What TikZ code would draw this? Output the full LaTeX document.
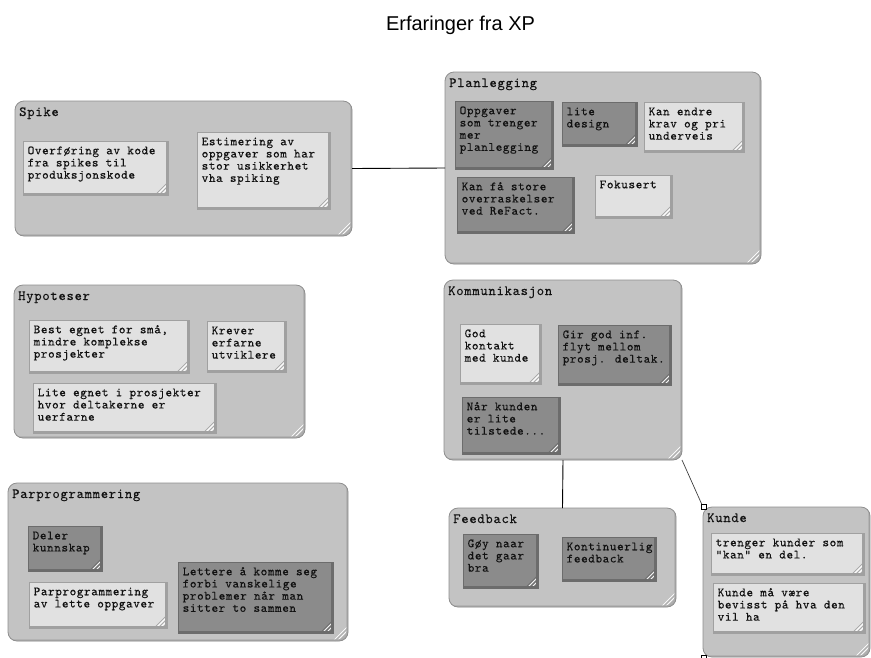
\documentclass[tikz,border=0pt]{standalone}
\usepackage{fontspec}
\setmainfont{Liberation Sans}
\newfontfamily\lmnote{lmmono10-regular.otf}[LetterSpace=4.6, FakeBold=0.25]
\newfontfamily\lmtitle{lmmono10-regular.otf}[LetterSpace=5, FakeBold=0.15]

\definecolor{grpfill}{HTML}{C3C3C3}
\definecolor{grpedge}{HTML}{8E8E8E}
\definecolor{grpshade}{HTML}{ABABAB}
\definecolor{lightfill}{HTML}{E1E1E1}
\definecolor{lightedge}{HTML}{A0A0A0}
\definecolor{darkfill}{HTML}{8B8B8B}
\definecolor{darkedge}{HTML}{6C6C6C}
\definecolor{inkcol}{HTML}{111111}

% typewriter faces for group titles and note texts
\newcommand\notefont{\lmnote\fontsize{12.6}{12.2}\selectfont}
\newcommand\grpfont{\lmtitle\fontsize{14}{14}\selectfont}

% bottom-right hatching of a box; #1 = size of the corner, #2 = colour of the dark stripes
\tikzset{
  cornerhatch/.style 2 args={
    path picture={
      \foreach \d in {3,7,...,#1}
        \draw[white, line width=0.7pt]
          ([xshift=-\d pt]path picture bounding box.south east) --
          ([yshift=\d pt]path picture bounding box.south east);
      \foreach \d in {5,9,...,#1}
        \draw[#2, line width=0.5pt]
          ([xshift=-\d pt]path picture bounding box.south east) --
          ([yshift=\d pt]path picture bounding box.south east);
      \draw[#2, line width=1.6pt]
        ([xshift=-0.8pt]path picture bounding box.north east) --
        ([xshift=-0.8pt,yshift=0.8pt]path picture bounding box.south east) --
        ([yshift=0.8pt]path picture bounding box.south west);
    }
  },
  grp/.style={anchor=north west, inner sep=0pt, outer sep=0pt,
    rounded corners=9pt, fill=grpfill, draw=grpedge, line width=0.8pt,
    cornerhatch={16}{grpshade}},
  grptitle/.style={anchor=north west, inner sep=0pt, text=inkcol, font=\grpfont},
  notelight/.style={anchor=north west, inner sep=0pt, outer sep=0pt,
    fill=lightfill, draw=lightedge, line width=0.4pt,
    cornerhatch={13}{lightedge}},
  notedark/.style={anchor=north west, inner sep=0pt, outer sep=0pt,
    fill=darkfill, draw=darkedge, line width=0.4pt,
    cornerhatch={13}{darkedge}},
  notetext/.style={anchor=north west, inner sep=0pt, align=left, text=inkcol,
    font=\notefont},
  link/.style={draw=black, line width=0.9pt},
  handle/.style={draw=black, fill=white, line width=0.6pt,
    minimum size=5pt, inner sep=0pt}
}

% group box: name, x1, y1, x2, y2, title
\newcommand\groupbox[6]{%
  \node[grp, minimum width={#4-#2}, minimum height={#5-#3}] (#1) at (#2,#3) {};
  \node[grptitle] (#1-title) at ([xshift=4pt,yshift=-5pt]#1.north west) {\strut #6};
}
% sticky note: name, x1, y1, x2, y2, tone (light/dark), text
\newcommand\stickynote[7]{%
  \node[note#6, minimum width={#4-#2}, minimum height={#5-#3}] (#1) at (#2,#3) {};
  \node[notetext] (#1-text) at ([xshift=4.5pt,yshift=-4.5pt]#1.north west) {\strut #7};
}

\begin{document}
\begin{tikzpicture}[x=1pt, y=-1pt]
\fill[white] (0,0) rectangle (871,657);
\useasboundingbox (0,0) rectangle (871,657);

\node[anchor=base, inner sep=0pt, font=\fontsize{20}{24}\selectfont] (title)
  at (460.5,30) {Erfaringer fra XP};

% Spike
\groupbox{spike}{15}{101}{352}{236}{Spike}
\stickynote{sp1}{23}{141}{168}{195}{light}{Overføring av kode\\fra spikes til\\produksjonskode}
\stickynote{sp2}{197}{132}{330}{209}{light}{Estimering av\\oppgaver som har\\stor usikkerhet\\vha spiking}

% Planlegging
\groupbox{plan}{445}{72}{761}{264}{Planlegging}
\stickynote{pl1}{455}{101}{553}{169}{dark}{Oppgaver\\som trenger\\mer\\planlegging}
\stickynote{pl2}{562}{102}{637}{146}{dark}{lite\\design}
\stickynote{pl3}{644}{102}{744}{152}{light}{Kan endre\\krav og pri\\underveis}
\stickynote{pl4}{457}{177}{574}{233}{dark}{Kan få store\\overraskelser\\ved ReFact.}
\stickynote{pl5}{595}{175}{672}{218}{light}{Fokusert}

% Hypoteser
\groupbox{hyp}{14}{285}{305}{438}{Hypoteser}
\stickynote{hy1}{29}{320}{189}{373}{light}{Best egnet for små,\\mindre komplekse\\prosjekter}
\stickynote{hy2}{207}{321}{286}{372}{light}{Krever\\erfarne\\utviklere}
\stickynote{hy3}{33}{383}{216}{433}{light}{Lite egnet i prosjekter\\hvor deltakerne er\\uerfarne}

% Kommunikasjon
\groupbox{komm}{444}{280}{682}{460}{Kommunikasjon}
\stickynote{ko1}{460}{324}{541}{384}{light}{God\\kontakt\\med kunde}
\stickynote{ko2}{558}{325}{671}{385}{dark}{Gir god inf.\\flyt mellom\\prosj. deltak.}
\stickynote{ko3}{462}{397}{560}{454}{dark}{Når kunden\\er lite\\tilstede...}

% Feedback
\groupbox{feed}{449}{508}{676}{607}{Feedback}
\stickynote{fe1}{463}{534}{538}{588}{dark}{Gøy naar\\det gaar\\bra}
\stickynote{fe2}{562}{537}{656}{581}{dark}{Kontinuerlig\\feedback}

% Kunde
\groupbox{kunde}{703}{507}{870}{657}{Kunde}
\stickynote{ku1}{711}{533}{864}{575}{light}{trenger kunder som\\"kan" en del.}
\stickynote{ku2}{713}{583}{865}{633}{light}{Kunde må være\\bevisst på hva den\\vil ha}

% Parprogrammering
\groupbox{par}{8}{483}{348}{641}{Parprogrammering}
\stickynote{pa1}{28}{526}{102}{571}{dark}{Deler\\kunnskap}
\stickynote{pa2}{29}{582}{167}{628}{light}{Parprogrammering\\av lette oppgaver}
\stickynote{pa3}{178}{562}{333}{633}{dark}{Lettere å komme seg\\forbi vanskelige\\problemer når man\\sitter to sammen}

% connectors between the groups
\draw[link] (spike.east) -- (plan.west);
\draw[link] (komm.south) -- (feed.north);
\draw[link, draw=black!75, line width=0.7pt] (komm.south east) -- (kunde.north west);

% selection handles of the last connector's target
\node[handle] (h1) at ([xshift=0.5pt,yshift=0.5pt]kunde.north west) {};
\node[handle] (h2) at ([xshift=0.5pt,yshift=-1pt]kunde.south west) {};
\end{tikzpicture}
\end{document}
